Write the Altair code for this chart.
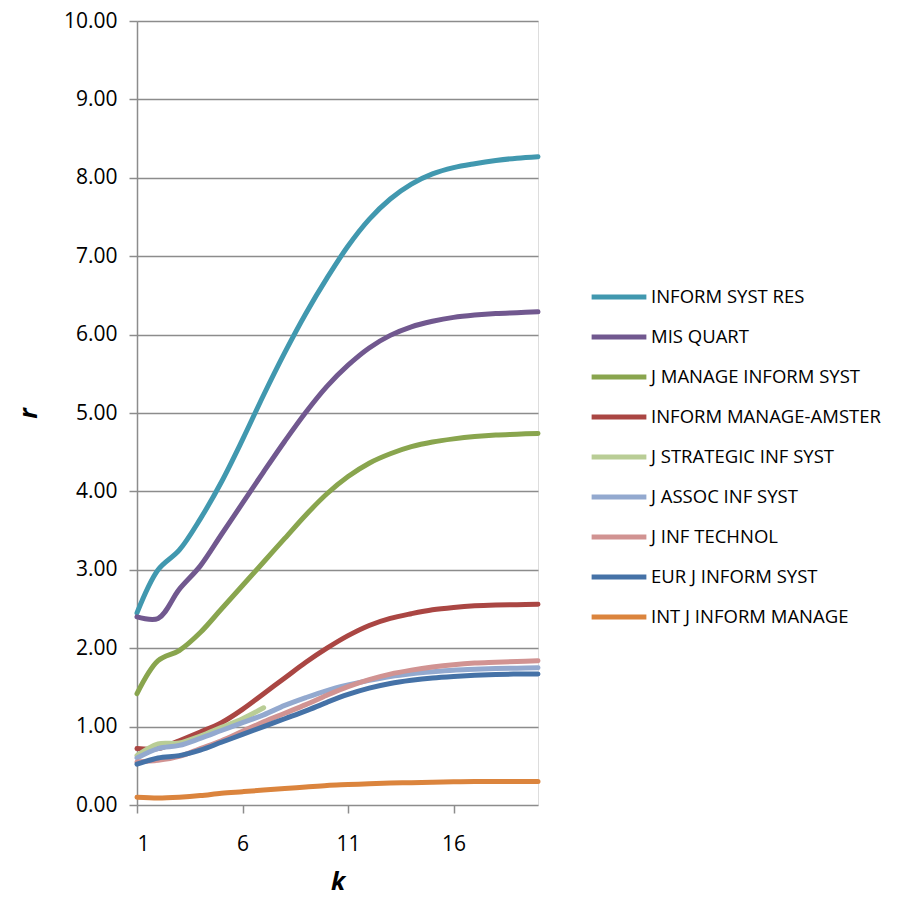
import altair as alt
import pandas as pd

k = list(range(1, 21))

series_names = [
    "INFORM SYST RES",
    "MIS QUART",
    "J MANAGE INFORM SYST",
    "INFORM MANAGE-AMSTER",
    "J STRATEGIC INF SYST",
    "J ASSOC INF SYST",
    "J INF TECHNOL",
    "EUR J INFORM SYST",
    "INT J INFORM MANAGE",
]

inform_syst_res = [2.45, 3.00, 3.25, 3.65, 4.12, 4.66, 5.23, 5.77, 6.27, 6.72, 7.13, 7.47, 7.73, 7.92, 8.05, 8.13, 8.18, 8.22, 8.25, 8.27]
mis_quart = [2.40, 2.38, 2.75, 3.05, 3.45, 3.85, 4.25, 4.64, 5.01, 5.34, 5.61, 5.83, 5.99, 6.10, 6.17, 6.22, 6.25, 6.27, 6.28, 6.29]
j_manage_inform_syst = [1.42, 1.84, 1.97, 2.20, 2.50, 2.80, 3.10, 3.40, 3.70, 3.97, 4.19, 4.36, 4.48, 4.57, 4.63, 4.67, 4.70, 4.72, 4.73, 4.74]
inform_manage_amster = [0.72, 0.72, 0.82, 0.93, 1.05, 1.22, 1.42, 1.62, 1.82, 2.00, 2.16, 2.29, 2.38, 2.44, 2.49, 2.52, 2.54, 2.55, 2.555, 2.56]
j_strategic_inf_syst = [0.63, 0.78, 0.79, 0.88, 0.99, 1.10, 1.24]
j_assoc_inf_syst = [0.60, 0.72, 0.76, 0.85, 0.95, 1.05, 1.15, 1.27, 1.37, 1.46, 1.53, 1.59, 1.64, 1.675, 1.70, 1.72, 1.73, 1.74, 1.745, 1.75]
j_inf_technol = [0.55, 0.57, 0.62, 0.72, 0.82, 0.94, 1.06, 1.17, 1.28, 1.40, 1.51, 1.60, 1.67, 1.72, 1.76, 1.79, 1.81, 1.82, 1.83, 1.84]
eur_j_inform_syst = [0.52, 0.60, 0.63, 0.70, 0.80, 0.90, 1.00, 1.10, 1.20, 1.31, 1.41, 1.49, 1.55, 1.59, 1.62, 1.64, 1.655, 1.665, 1.67, 1.67]
int_j_inform_manage = [0.10, 0.09, 0.10, 0.12, 0.15, 0.17, 0.19, 0.21, 0.23, 0.25, 0.26, 0.27, 0.28, 0.285, 0.29, 0.295, 0.30, 0.30, 0.30, 0.30]

series_values = [
    inform_syst_res, mis_quart, j_manage_inform_syst, inform_manage_amster,
    j_strategic_inf_syst, j_assoc_inf_syst, j_inf_technol, eur_j_inform_syst,
    int_j_inform_manage,
]

colors = ["#4198AF", "#71588F", "#89A54E", "#AA4643", "#B9CD96",
          "#93A9CF", "#D19392", "#4572A7", "#DB843D"]

rows = []
for order, (name, vals) in enumerate(zip(series_names, series_values)):
    for kk, v in zip(k, vals):
        rows.append({"k": kk, "r": v, "series": name, "order": order})
df = pd.DataFrame(rows)

FONT = "Open Sans"
GRID = "#8C8C8C"

chart = alt.Chart(df).mark_line(strokeWidth=5, interpolate="catmull-rom", strokeCap="round").encode(
    x=alt.X("k:Q",
            scale=alt.Scale(domain=[1, 20], nice=False, zero=False),
            axis=alt.Axis(values=[1, 6, 11, 16], title="k", grid=False,
                          domain=False, tickColor=GRID, tickSize=8, tickWidth=1.5,
                          labelFontSize=21, labelPadding=20, labelColor="#000",
                          labelFont=FONT,
                          titleFont=FONT, titleFontSize=25, titleFontStyle="italic",
                          titleFontWeight="bold", titlePadding=15, titleColor="#000")),
    y=alt.Y("r:Q",
            scale=alt.Scale(domain=[0, 10], nice=False),
            axis=alt.Axis(values=[0, 1, 2, 3, 4, 5, 6, 7, 8, 9, 10], format=".2f",
                          title="r", grid=True, gridColor=GRID, gridWidth=1.5,
                          domain=True, domainColor=GRID, domainWidth=1.5,
                          tickColor=GRID, tickSize=8, tickWidth=1.5,
                          labelFontSize=21, labelPadding=12, labelColor="#000",
                          labelFont=FONT,
                          titleFont=FONT, titleFontSize=25, titleFontStyle="italic",
                          titleFontWeight="bold", titlePadding=22, titleColor="#000",
                          titleAngle=270)),
    color=alt.Color("series:N",
                    scale=alt.Scale(domain=series_names, range=colors),
                    legend=alt.Legend(title=None, orient="none", legendX=452, legendY=246,
                                      symbolType="stroke", symbolSize=3000,
                                      symbolStrokeWidth=5, labelFontSize=18.5,
                                      labelFont=FONT, labelColor="#000", labelLimit=400,
                                      rowPadding=-11.4, labelOffset=2)),
    detail="series:N",
    order=alt.Order("k:Q"),
).properties(
    width=401, height=784,
    autosize=alt.AutoSizeParams(type="none"),
    padding={"left": 129, "top": 13, "right": 360, "bottom": 90},
).configure_view(stroke=None).configure(font=FONT)

chart.save("out.html", embed_options={"renderer": "svg", "actions": False})
